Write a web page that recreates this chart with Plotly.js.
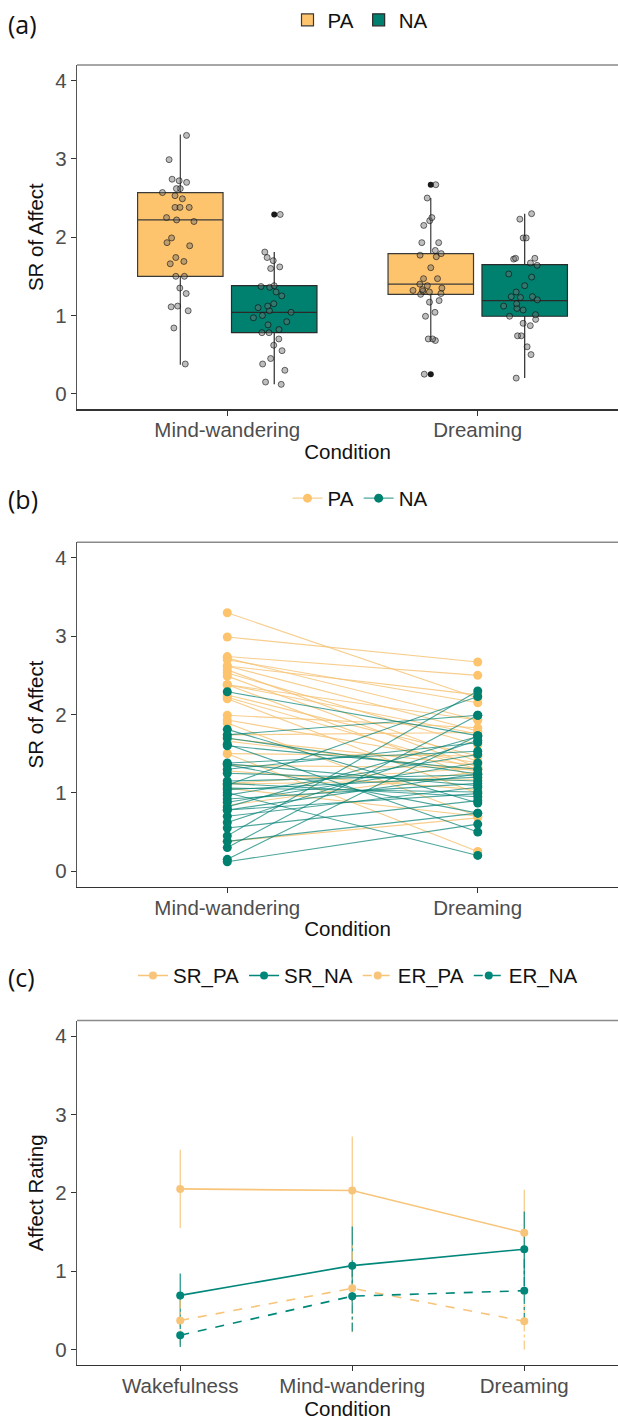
<!DOCTYPE html>
<html>
<head>
<meta charset="utf-8">
<script src="https://cdn.plot.ly/plotly-3.0.1.min.js"></script>
<style>html,body{margin:0;padding:0;background:#fff;overflow:hidden;}#chart{width:618px;height:1421px;}</style>
</head>
<body>
<div id="chart"></div>
<script>
// ---------- DATA ----------
const conditions2 = ['Mind-wandering', 'Dreaming'];
const conditions3 = ['Wakefulness', 'Mind-wandering', 'Dreaming'];

// Panel (a) box statistics per condition [Mind-wandering, Dreaming]
const PA_q1 = [1.50, 1.27];
const PA_median = [2.22, 1.40];
const PA_q3 = [2.57, 1.79];
const PA_lowerWhisker = [0.37, 0.68];
const PA_upperWhisker = [3.31, 2.50];
const NA_q1 = [0.78, 0.99];
const NA_median = [1.04, 1.19];
const NA_q3 = [1.38, 1.65];
const NA_lowerWhisker = [0.12, 0.20];
const NA_upperWhisker = [1.81, 2.30];

// Outliers
const PA_outlierCond = ['Dreaming', 'Dreaming'];
const PA_outlierVal = [2.67, 0.25];
const NA_outlierCond = ['Mind-wandering'];
const NA_outlierVal = [2.29];

// Individual participants (same index = same participant)
const PA_MW = [3.30, 2.99, 2.74, 2.72, 2.70, 2.62, 2.62, 2.57, 2.53, 2.49, 2.38, 2.38, 2.38, 2.25, 2.22, 2.20, 1.99, 1.93, 1.89, 1.74, 1.69, 1.66, 1.50, 1.50, 1.35, 1.28, 1.12, 1.11, 1.06, 0.84, 0.38];
const PA_DR = [2.21, 2.67, 2.50, 1.93, 2.15, 2.25, 1.79, 1.40, 1.61, 1.33, 1.93, 1.19, 1.75, 1.47, 1.30, 0.99, 1.83, 1.38, 0.70, 1.77, 1.35, 1.28, 1.47, 0.25, 1.32, 1.04, 1.31, 1.17, 0.70, 1.27, 0.68];
const NA_MW = [2.29, 1.81, 1.74, 1.70, 1.62, 1.60, 1.38, 1.37, 1.36, 1.30, 1.25, 1.15, 1.12, 1.10, 1.06, 1.04, 1.00, 0.97, 0.92, 0.88, 0.82, 0.78, 0.78, 0.70, 0.62, 0.55, 0.45, 0.38, 0.30, 0.15, 0.12];
const NA_DR = [1.73, 0.87, 1.99, 1.24, 0.50, 1.30, 1.53, 1.09, 0.74, 1.64, 1.15, 1.23, 0.95, 2.23, 1.01, 1.20, 0.20, 1.49, 1.12, 1.38, 1.72, 0.99, 1.24, 1.07, 1.67, 0.90, 2.30, 0.74, 1.99, 1.73, 0.60];

// Panel (c) means and SDs [Wakefulness, Mind-wandering, Dreaming]
const SR_PA_mean = [2.05, 2.03, 1.49];
const SR_PA_sd = [0.50, 0.69, 0.55];
const SR_NA_mean = [0.69, 1.07, 1.28];
const SR_NA_sd = [0.28, 0.50, 0.48];
const ER_PA_mean = [0.37, 0.78, 0.36];
const ER_PA_sd = [0.31, 0.56, 0.36];
const ER_NA_mean = [0.18, 0.68, 0.75];
const ER_NA_sd = [0.15, 0.45, 0.40];

// ---------- STYLE ----------
const ORANGE = '#FDC46D';
const TEAL = '#00806F';
const ORANGE_LINE = 'rgba(246,196,120,0.85)';
const TEAL_LINE = 'rgba(0,128,115,0.7)';
const W = 618, H = 1421;
const LEFT = 77 / W;
const FONT = 'Arial, Liberation Sans, sans-serif';
const FS = 20.5;

function ydom(top, bottom) { return [1 - bottom / H, 1 - top / H]; }
const panels = [
  {top: 63, bottom: 408},
  {top: 541, bottom: 886},
  {top: 1020, bottom: 1365}
];

const traces = [];

// ---------- Panel (a) ----------
traces.push({
  type: 'box', name: 'PA', x: conditions2, q1: PA_q1, median: PA_median, q3: PA_q3,
  lowerfence: PA_lowerWhisker, upperfence: PA_upperWhisker, whiskerwidth: 0,
  fillcolor: ORANGE, line: {color: '#3a3a3a', width: 1.2}, boxpoints: false,
  offsetgroup: 'PA', xaxis: 'x', yaxis: 'y', legend: 'legend', hoverinfo: 'skip'
});
traces.push({
  type: 'box', name: 'NA', x: conditions2, q1: NA_q1, median: NA_median, q3: NA_q3,
  lowerfence: NA_lowerWhisker, upperfence: NA_upperWhisker, whiskerwidth: 0,
  fillcolor: TEAL, line: {color: '#2a2a2a', width: 1.2}, boxpoints: false,
  offsetgroup: 'NA', xaxis: 'x', yaxis: 'y', legend: 'legend', hoverinfo: 'skip'
});
function jitterTrace(xs, ys, grp, jit) {
  return {
    type: 'box', x: xs, y: ys, offsetgroup: grp, boxpoints: 'all', jitter: jit, pointpos: 0,
    fillcolor: 'rgba(0,0,0,0)', line: {color: 'rgba(0,0,0,0)', width: 0}, whiskerwidth: 0,
    marker: {color: 'rgba(110,110,110,0.45)', size: 6, line: {color: 'rgba(0,0,0,0.55)', width: 1}},
    showlegend: false, xaxis: 'x', yaxis: 'y', hoverinfo: 'skip'
  };
}
const mwRep = n => Array(n).fill('Mind-wandering');
const drRep = n => Array(n).fill('Dreaming');
traces.push(jitterTrace(mwRep(PA_MW.length).concat(drRep(PA_DR.length)), PA_MW.concat(PA_DR), 'PA', 0.5));
traces.push(jitterTrace(mwRep(NA_MW.length).concat(drRep(NA_DR.length)), NA_MW.concat(NA_DR), 'NA', 0.5));
function outlierTrace(xs, ys, grp) {
  return {
    type: 'box', x: xs, y: ys, offsetgroup: grp, boxpoints: 'all', jitter: 0, pointpos: 0,
    fillcolor: 'rgba(0,0,0,0)', line: {color: 'rgba(0,0,0,0)', width: 0}, whiskerwidth: 0,
    marker: {color: '#1a1a1a', size: 6},
    showlegend: false, xaxis: 'x', yaxis: 'y', hoverinfo: 'skip'
  };
}
traces.push(outlierTrace(PA_outlierCond, PA_outlierVal, 'PA'));
traces.push(outlierTrace(NA_outlierCond, NA_outlierVal, 'NA'));

// ---------- Panel (b) ----------
function pairs(a, b) {
  const xs = [], ys = [];
  for (let i = 0; i < a.length; i++) {
    xs.push(conditions2[0], conditions2[1], null);
    ys.push(a[i], b[i], null);
  }
  return {xs, ys};
}
const pPA = pairs(PA_MW, PA_DR);
const pNA = pairs(NA_MW, NA_DR);
traces.push({
  type: 'scatter', mode: 'lines+markers', name: 'PA', x: pPA.xs, y: pPA.ys, connectgaps: false,
  line: {color: ORANGE_LINE, width: 1.1}, marker: {color: ORANGE, size: 9},
  xaxis: 'x2', yaxis: 'y2', legend: 'legend2', hoverinfo: 'skip'
});
traces.push({
  type: 'scatter', mode: 'lines+markers', name: 'NA', x: pNA.xs, y: pNA.ys, connectgaps: false,
  line: {color: TEAL_LINE, width: 1.1}, marker: {color: TEAL, size: 9},
  xaxis: 'x2', yaxis: 'y2', legend: 'legend2', hoverinfo: 'skip'
});

// ---------- Panel (c) ----------
function errBars(mean, sd, color, dash) {
  const xs = [], ys = [];
  for (let i = 0; i < mean.length; i++) {
    xs.push(conditions3[i], conditions3[i], null);
    ys.push(mean[i] - sd[i], mean[i] + sd[i], null);
  }
  return {type: 'scatter', mode: 'lines', x: xs, y: ys, line: {color: color, width: 1.1, dash: dash},
    showlegend: false, xaxis: 'x3', yaxis: 'y3', hoverinfo: 'skip'};
}
const C_OR = '#F8C479';
const C_TE = '#00877A';
traces.push(errBars(SR_PA_mean, SR_PA_sd, C_OR, 'solid'));
traces.push(errBars(SR_NA_mean, SR_NA_sd, C_TE, 'solid'));
traces.push(errBars(ER_PA_mean, ER_PA_sd, C_OR, 'dashdot'));
traces.push(errBars(ER_NA_mean, ER_NA_sd, C_TE, 'dashdot'));
function meanTrace(name, mean, color, dash) {
  return {type: 'scatter', mode: 'lines+markers', name: name, x: conditions3, y: mean,
    line: {color: color, width: 1.6, dash: dash}, marker: {color: color, size: 8},
    xaxis: 'x3', yaxis: 'y3', legend: 'legend3', hoverinfo: 'skip'};
}
traces.push(meanTrace('SR_PA', SR_PA_mean, C_OR, 'solid'));
traces.push(meanTrace('SR_NA', SR_NA_mean, C_TE, 'solid'));
traces.push(meanTrace('ER_PA', ER_PA_mean, C_OR, 'dash'));
traces.push(meanTrace('ER_NA', ER_NA_mean, C_TE, 'dash'));

// ---------- LAYOUT ----------
function xAxis(anchor, cats, range) {
  return {
    anchor: anchor, domain: [LEFT, 1], type: 'category', categoryorder: 'array', categoryarray: cats,
    range: range, showline: true, linecolor: '#333', linewidth: 1.3, ticks: 'outside', ticklen: 5,
    tickcolor: '#333', tickwidth: 1.1, tickfont: {family: FONT, size: FS, color: '#4d4d4d'},
    ticklabelstandoff: -3,
    title: {text: 'Condition', font: {family: FONT, size: FS, color: '#111'}, standoff: 4},
    showgrid: false, zeroline: false, fixedrange: true, automargin: false
  };
}
function yAxis(anchor, dom, title) {
  return {
    anchor: anchor, domain: dom, range: [-0.2, 4.2], tickvals: [0, 1, 2, 3, 4],
    showline: true, linecolor: '#555', linewidth: 1.3, ticks: 'outside', ticklen: 5,
    tickcolor: '#333', tickwidth: 1.1, tickfont: {family: FONT, size: FS, color: '#4d4d4d'},
    title: {text: title, font: {family: FONT, size: FS, color: '#111'}, standoff: 6},
    showgrid: false, zeroline: false, fixedrange: true, automargin: false
  };
}
function legendAt(yPx, xc) {
  return {orientation: 'h', x: xc / W, xanchor: 'center', y: 1 - yPx / H, yanchor: 'middle',
    font: {family: FONT, size: FS, color: '#111'}, bgcolor: 'rgba(0,0,0,0)', itemwidth: 30, tracegroupgap: 0};
}
const shapes = panels.map(p => ({
  type: 'line', xref: 'paper', yref: 'paper', x0: LEFT, x1: 1, y0: 1 - p.top / H, y1: 1 - p.top / H,
  line: {color: '#8a8a8a', width: 1.5}
}));
const labelY = [22, 498, 976];
const annotations = ['(a)', '(b)', '(c)'].map((t, i) => ({
  text: t, xref: 'paper', yref: 'paper', x: 6 / W, xanchor: 'left', y: 1 - labelY[i] / H, yanchor: 'middle',
  showarrow: false, font: {family: 'Open Sans, sans-serif', size: 25, color: '#111'}
}));

const layout = {
  width: W, height: H, margin: {l: 0, r: 0, t: 0, b: 0},
  paper_bgcolor: '#fff', plot_bgcolor: '#fff',
  boxmode: 'group', boxgap: 0.25, boxgroupgap: 0.09,
  xaxis: xAxis('y', conditions2, [-0.6, 1.56]),
  yaxis: yAxis('x', ydom(panels[0].top, panels[0].bottom), 'SR of Affect'),
  xaxis2: xAxis('y2', conditions2, [-0.6, 1.56]),
  yaxis2: yAxis('x2', ydom(panels[1].top, panels[1].bottom), 'SR of Affect'),
  xaxis3: xAxis('y3', conditions3, [-0.6, 2.545]),
  yaxis3: yAxis('x3', ydom(panels[2].top, panels[2].bottom), 'Affect Rating'),
  legend: legendAt(18, 360),
  legend2: legendAt(497, 360),
  legend3: legendAt(975, 358),
  shapes: shapes,
  annotations: annotations,
  showlegend: true
};

Plotly.newPlot('chart', traces, layout, {staticPlot: true, displayModeBar: false});
</script>
</body>
</html>
